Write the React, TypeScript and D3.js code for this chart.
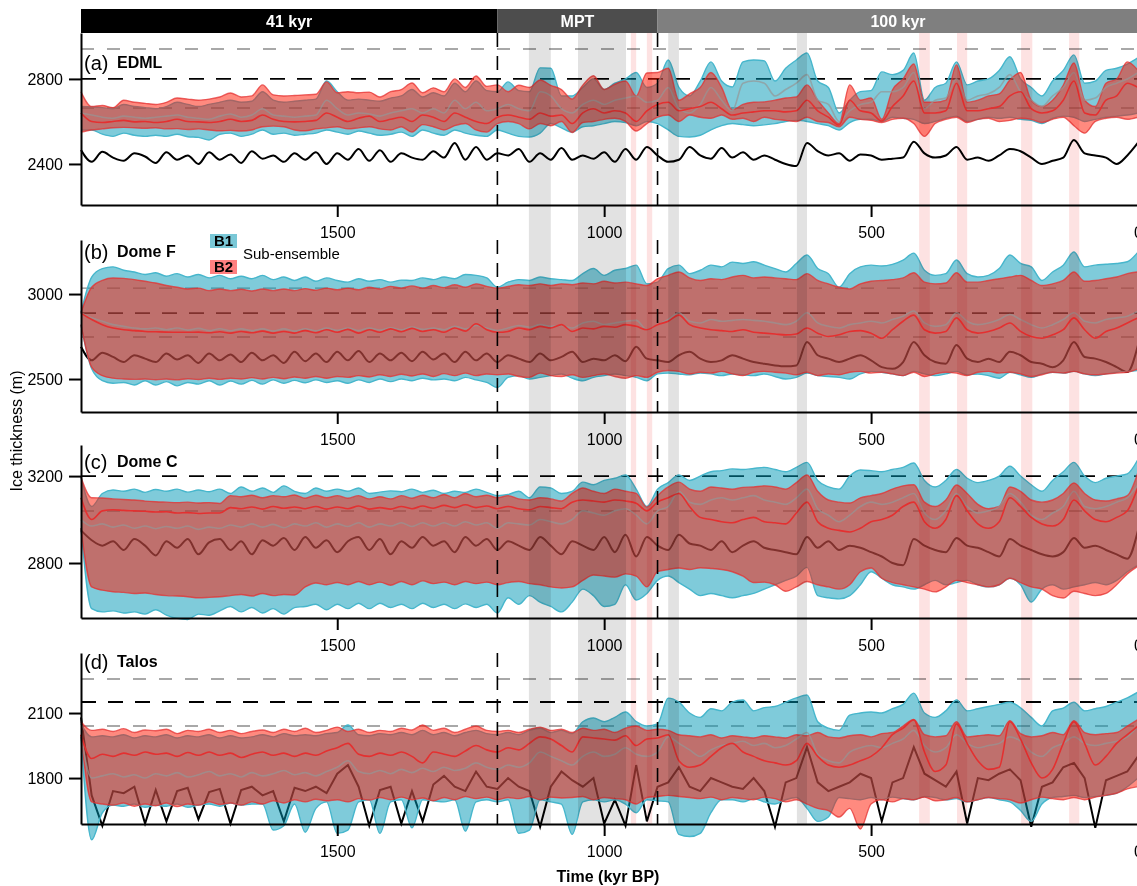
import React, { useRef, useEffect } from "react";
import * as d3 from "d3";

// time axis, kyr BP, every 20 kyr from 1980 to 0
const times = d3.range(1980, -1, -20);

// (a) EDML
const aBlack = [
  2466, 2410, 2457, 2430, 2415, 2450, 2435, 2405, 2455, 2420,
  2440, 2400, 2455, 2420, 2445, 2405, 2460, 2425, 2440, 2410,
  2450, 2420, 2455, 2400, 2450, 2420, 2470, 2415, 2465, 2410,
  2450, 2430, 2420, 2460, 2430, 2499, 2420, 2480, 2420, 2450,
  2440, 2470, 2410, 2450, 2420, 2475, 2420, 2440, 2425, 2455,
  2410, 2470, 2420, 2480, 2440, 2410, 2420, 2480, 2440, 2425,
  2475, 2430, 2455, 2420, 2440, 2420, 2400, 2390, 2499, 2460,
  2440, 2450, 2415, 2445, 2440, 2420, 2425, 2430, 2505, 2450,
  2430, 2440, 2480, 2420, 2430, 2415, 2440, 2470, 2460, 2430,
  2400, 2415, 2430, 2513, 2450, 2440, 2430, 2400, 2440, 2500,
];
const aB1Lo = [
  2560, 2560, 2540, 2530, 2545, 2535, 2530, 2535, 2530, 2540,
  2528, 2525, 2513, 2540, 2545, 2530, 2540, 2560, 2540, 2545,
  2535, 2540, 2545, 2560, 2550, 2540, 2555, 2545, 2535, 2540,
  2550, 2530, 2560, 2545, 2535, 2560, 2545, 2535, 2530, 2560,
  2545, 2530, 2527, 2545, 2590, 2570, 2550, 2575, 2580, 2590,
  2600, 2595, 2580, 2600, 2590, 2560, 2530, 2527, 2535, 2560,
  2580, 2590, 2585, 2580, 2584, 2590, 2600, 2605, 2600, 2590,
  2580, 2560, 2595, 2610, 2610, 2600, 2620, 2615, 2610, 2590,
  2600, 2615, 2625, 2600, 2610, 2620, 2615, 2620, 2610, 2605,
  2590, 2615, 2625, 2620, 2600, 2610, 2620, 2625, 2630, 2640,
];
const aB1Hi = [
  2670, 2668, 2665, 2660, 2680, 2670, 2665, 2660, 2670, 2690,
  2680, 2670, 2680, 2690, 2700, 2690, 2695, 2740, 2700, 2690,
  2695, 2700, 2705, 2790, 2740, 2700, 2705, 2700, 2695, 2710,
  2720, 2750, 2715, 2735, 2720, 2780, 2740, 2790, 2745, 2740,
  2786, 2745, 2740, 2852, 2850, 2720, 2720, 2760, 2800, 2750,
  2780, 2800, 2830, 2760, 2780, 2889, 2760, 2720, 2790, 2880,
  2790, 2762, 2880, 2889, 2885, 2790, 2850, 2889, 2922, 2790,
  2760, 2640, 2700, 2740, 2745, 2833, 2820, 2840, 2922, 2700,
  2760, 2780, 2880, 2772, 2790, 2800, 2840, 2904, 2800, 2760,
  2720, 2790, 2840, 2913, 2780, 2790, 2840, 2850, 2870, 2900,
];
const aB1Mid = [
  2640, 2630, 2620, 2615, 2625, 2620, 2615, 2620, 2625, 2630,
  2620, 2615, 2610, 2625, 2635, 2620, 2630, 2660, 2630, 2625,
  2620, 2625, 2630, 2700, 2660, 2630, 2640, 2635, 2625, 2640,
  2650, 2660, 2640, 2660, 2640, 2700, 2660, 2690, 2650, 2660,
  2680, 2660, 2650, 2740, 2720, 2660, 2640, 2680, 2700, 2680,
  2700, 2710, 2720, 2690, 2700, 2760, 2660, 2640, 2680, 2760,
  2700, 2650, 2780, 2790, 2780, 2720, 2750, 2780, 2820, 2700,
  2680, 2600, 2650, 2680, 2690, 2740, 2740, 2760, 2830, 2660,
  2700, 2710, 2800, 2700, 2720, 2730, 2760, 2820, 2740, 2700,
  2670, 2720, 2760, 2830, 2700, 2710, 2760, 2780, 2800, 2830,
];
const aB2Lo = [
  2550, 2560, 2565, 2570, 2572, 2570, 2568, 2570, 2565, 2566,
  2562, 2565, 2560, 2556, 2558, 2555, 2560, 2575, 2578, 2575,
  2560, 2556, 2565, 2570, 2575, 2565, 2570, 2575, 2565, 2560,
  2575, 2550, 2585, 2575, 2560, 2580, 2590, 2560, 2550, 2590,
  2600, 2590, 2565, 2590, 2580, 2600, 2548, 2595, 2600, 2610,
  2615, 2600, 2555, 2590, 2620, 2630, 2600, 2630, 2620, 2615,
  2630, 2610, 2615, 2600, 2620, 2610, 2605, 2600, 2620, 2600,
  2595, 2575, 2620, 2610, 2605, 2595, 2610, 2615, 2590, 2530,
  2590, 2610, 2620, 2595, 2610, 2615, 2600, 2605, 2615, 2610,
  2595, 2610, 2620, 2580, 2545, 2600, 2615, 2620, 2610, 2620,
];
const aB2Hi = [
  2740, 2670, 2675, 2665, 2700, 2690, 2685, 2680, 2690, 2710,
  2705, 2700, 2705, 2715, 2734, 2715, 2720, 2772, 2725, 2720,
  2722, 2725, 2728, 2786, 2735, 2740, 2735, 2738, 2715, 2740,
  2750, 2781, 2735, 2758, 2740, 2800, 2760, 2814, 2765, 2772,
  2740, 2770, 2760, 2795, 2770, 2750, 2705, 2770, 2815, 2750,
  2775, 2790, 2720, 2828, 2830, 2850, 2700, 2730, 2760, 2830,
  2760, 2654, 2680, 2690, 2692, 2700, 2710, 2715, 2772, 2700,
  2640, 2590, 2772, 2700, 2710, 2610, 2748, 2800, 2870, 2690,
  2690, 2700, 2866, 2690, 2700, 2720, 2730, 2795, 2830, 2700,
  2670, 2700, 2770, 2875, 2700, 2670, 2780, 2800, 2880, 2840,
];
const aB2Mid = [
  2640, 2600, 2595, 2600, 2605, 2598, 2600, 2595, 2600, 2610,
  2600, 2598, 2595, 2600, 2610, 2600, 2605, 2630, 2610, 2600,
  2598, 2600, 2605, 2640, 2620, 2600, 2615, 2625, 2600, 2610,
  2620, 2600, 2630, 2620, 2600, 2640, 2620, 2600, 2590, 2620,
  2630, 2620, 2610, 2640, 2625, 2630, 2590, 2640, 2660, 2640,
  2650, 2640, 2600, 2650, 2680, 2690, 2650, 2660, 2670, 2690,
  2660, 2630, 2640, 2645, 2650, 2650, 2645, 2650, 2700, 2650,
  2620, 2583, 2700, 2650, 2640, 2602, 2670, 2720, 2790, 2640,
  2640, 2650, 2780, 2650, 2650, 2660, 2670, 2720, 2740, 2660,
  2640, 2650, 2700, 2790, 2640, 2630, 2700, 2720, 2780, 2760,
];

// (b) Dome F
const bBlack = [
  2690, 2610, 2655, 2630, 2600, 2640, 2620, 2600, 2650, 2615,
  2640, 2595, 2650, 2610, 2645, 2600, 2655, 2610, 2640, 2595,
  2660, 2605, 2650, 2600, 2660, 2610, 2665, 2600, 2650, 2610,
  2655, 2605, 2660, 2615, 2650, 2600, 2660, 2610, 2650, 2600,
  2640, 2620, 2600, 2650, 2610, 2630, 2660, 2600, 2620, 2610,
  2640, 2605, 2690, 2620, 2610, 2600, 2640, 2660, 2620, 2600,
  2610, 2640, 2620, 2600, 2590, 2580, 2575, 2580, 2718, 2640,
  2620, 2600, 2620, 2640, 2610, 2570, 2560, 2600, 2718, 2640,
  2600, 2590, 2700, 2620, 2600, 2620, 2600, 2660, 2640, 2600,
  2590, 2570, 2610, 2718, 2630, 2620, 2600, 2570, 2541, 2700,
];
const bB1Lo = [
  2820, 2560, 2490, 2475, 2480, 2465, 2490, 2465, 2485, 2460,
  2480, 2470, 2490, 2465, 2488, 2470, 2492, 2470, 2495, 2475,
  2492, 2478, 2495, 2480, 2490, 2475, 2495, 2480, 2500, 2485,
  2500, 2490, 2505, 2495, 2500, 2490, 2510, 2495, 2480, 2450,
  2510, 2520, 2500, 2510, 2520, 2530, 2505, 2490, 2510, 2520,
  2530, 2520, 2510, 2490, 2530, 2535, 2530, 2525, 2535, 2530,
  2520, 2530, 2525, 2520, 2530, 2515, 2500, 2510, 2535, 2520,
  2515, 2510, 2500, 2530, 2545, 2540, 2530, 2520, 2545, 2530,
  2520, 2530, 2545, 2525, 2530, 2520, 2505, 2540, 2525, 2510,
  2530, 2540, 2535, 2545, 2530, 2520, 2530, 2540, 2545, 2550,
];
const bB1Hi = [
  2890, 3100, 3150, 3160, 3140, 3130, 3115, 3125, 3105, 3120,
  3100, 3115, 3095, 3110, 3090, 3105, 3090, 3110, 3085, 3100,
  3080, 3100, 3075, 3095, 3080, 3070, 3090, 3075, 3085, 3070,
  3082, 3080, 3095, 3085, 3100, 3090, 3115, 3110, 3095, 3040,
  3070, 3085, 3080, 3100, 3090, 3085, 3080, 3120, 3150, 3110,
  3140, 3150, 3170, 3060, 3070, 3150, 3170, 3120, 3140, 3170,
  3160, 3188, 3180, 3190, 3170, 3150, 3130, 3180, 3230, 3150,
  3120, 3040, 3120, 3160, 3170, 3165, 3175, 3200, 3241, 3140,
  3110, 3120, 3200, 3120, 3100, 3110, 3150, 3230, 3180, 3160,
  3080, 3130, 3170, 3247, 3160, 3170, 3175, 3180, 3190, 3247,
];
const bB1Mid = [
  2888, 2860, 2840, 2820, 2810, 2800, 2795, 2800, 2790, 2800,
  2788, 2798, 2785, 2796, 2784, 2795, 2785, 2795, 2783, 2795,
  2782, 2796, 2784, 2800, 2786, 2800, 2785, 2800, 2788, 2802,
  2790, 2806, 2792, 2800, 2790, 2810, 2795, 2815, 2800, 2785,
  2800, 2815, 2805, 2820, 2810, 2815, 2800, 2830, 2840, 2820,
  2830, 2840, 2845, 2790, 2820, 2850, 2890, 2840, 2830, 2850,
  2840, 2845, 2850, 2845, 2840, 2830, 2820, 2840, 2890, 2830,
  2810, 2800, 2820, 2830, 2840, 2830, 2850, 2870, 2900, 2830,
  2810, 2820, 2890, 2840, 2820, 2830, 2850, 2880, 2850, 2820,
  2800, 2820, 2850, 2890, 2840, 2830, 2850, 2860, 2870, 2900,
];
const bB2Lo = [
  2820, 2570, 2520, 2505, 2500, 2498, 2500, 2496, 2500, 2495,
  2502, 2497, 2505, 2498, 2505, 2500, 2508, 2500, 2510, 2502,
  2512, 2505, 2515, 2505, 2515, 2510, 2520, 2512, 2525, 2515,
  2528, 2518, 2530, 2515, 2532, 2520, 2535, 2520, 2530, 2525,
  2530, 2515, 2510, 2535, 2520, 2515, 2525, 2510, 2520, 2530,
  2515, 2505, 2520, 2510, 2540, 2550, 2545, 2530, 2540, 2535,
  2545, 2530, 2520, 2540, 2545, 2540, 2535, 2525, 2540, 2520,
  2530, 2525, 2540, 2545, 2535, 2540, 2530, 2520, 2540, 2515,
  2530, 2540, 2535, 2520, 2540, 2545, 2535, 2540, 2530, 2515,
  2525, 2540, 2535, 2545, 2530, 2525, 2530, 2535, 2540, 2560,
];
const bB2Hi = [
  2890, 3040, 3080, 3094, 3092, 3085, 3075, 3065, 3050, 3040,
  3030, 3035, 3020, 3030, 3020, 3028, 3018, 3030, 3020, 3030,
  3020, 3032, 3022, 3035, 3025, 3035, 3025, 3040, 3030, 3045,
  3035, 3048, 3035, 3050, 3038, 3055, 3040, 3060, 3045, 3035,
  3045, 3055, 3050, 3060, 3050, 3060, 3055, 3065, 3060, 3075,
  3065, 3070, 3060, 3050, 3090, 3110, 3130, 3095, 3080, 3090,
  3085, 3100, 3110, 3095, 3100, 3095, 3090, 3085, 3120, 3080,
  3060, 3040, 3030, 3060, 3075, 3080, 3085, 3095, 3125, 3070,
  3060, 3065, 3125, 3070, 3070, 3080, 3090, 3100, 3110, 3080,
  3050, 3060, 3080, 3130, 3075, 3080, 3090, 3100, 3120, 3130,
];
const bB2Mid = [
  2888, 2850, 2820, 2800, 2790, 2785, 2780, 2778, 2776, 2775,
  2775, 2776, 2772, 2778, 2770, 2780, 2772, 2782, 2770, 2780,
  2770, 2785, 2772, 2790, 2775, 2792, 2770, 2790, 2775, 2795,
  2778, 2798, 2780, 2790, 2775, 2800, 2782, 2825, 2790, 2775,
  2780, 2800, 2790, 2810, 2800, 2820, 2780, 2800, 2795, 2810,
  2805, 2820, 2810, 2790, 2820, 2840, 2876, 2820, 2800, 2790,
  2785, 2780, 2790, 2775, 2770, 2765, 2760, 2765, 2800, 2770,
  2750, 2760, 2780, 2785, 2770, 2740, 2790, 2840, 2876, 2790,
  2770, 2780, 2860, 2790, 2770, 2780, 2800, 2830, 2780, 2750,
  2740, 2760, 2790, 2860, 2790, 2740, 2780, 2800, 2830, 2860,
];

// (c) Dome C
const cBlack = [
  2950, 2905, 2880, 2900, 2860, 2910, 2880, 2835, 2900, 2870,
  2910, 2840, 2895, 2910, 2860, 2900, 2840, 2905, 2880, 2915,
  2860, 2920, 2870, 2905, 2850, 2900, 2920, 2860, 2910, 2840,
  2900, 2870, 2920, 2880, 2900, 2850, 2920, 2880, 2910, 2860,
  2900, 2880, 2860, 2920, 2880, 2840, 2900, 2880, 2860, 2920,
  2850, 2930, 2830, 2920, 2880, 2860, 2930, 2890, 2880, 2860,
  2900, 2850, 2880, 2900, 2870, 2860, 2850, 2840, 2920, 2870,
  2900, 2860, 2880, 2870, 2850, 2830, 2800, 2790, 2910, 2880,
  2860, 2850, 2915, 2880, 2870, 2850, 2830, 2910, 2880, 2860,
  2840, 2830, 2850, 2915, 2870, 2880, 2860, 2840, 2820, 2950,
];
const cB1Lo = [
  2960, 2590, 2575, 2580, 2570, 2575, 2565, 2585, 2560, 2545,
  2540, 2565, 2560, 2580, 2600, 2575, 2595, 2570, 2590, 2565,
  2595, 2600, 2610, 2585, 2610, 2590, 2615, 2590, 2615, 2595,
  2610, 2590, 2615, 2595, 2610, 2590, 2612, 2595, 2610, 2570,
  2640, 2610, 2650, 2620, 2600, 2575, 2620, 2680, 2650, 2600,
  2610, 2700, 2630, 2660, 2720, 2740, 2710, 2680, 2650, 2660,
  2650, 2640, 2650, 2660, 2680, 2700, 2720, 2740, 2780, 2650,
  2640, 2635, 2650, 2700, 2760, 2730, 2700, 2690, 2680, 2700,
  2720, 2700, 2710, 2720, 2700, 2690, 2700, 2730, 2700, 2620,
  2680, 2700, 2680, 2690, 2700, 2710, 2700, 2720, 2760, 2790,
];
const cB1Hi = [
  3195, 3060, 3120, 3136, 3130, 3140, 3125, 3138, 3130, 3140,
  3126, 3136, 3128, 3140, 3120, 3150, 3130, 3145, 3125, 3155,
  3130, 3120, 3145, 3130, 3140, 3130, 3145, 3120, 3126, 3132,
  3128, 3140, 3125, 3135, 3120, 3130, 3125, 3140, 3125, 3110,
  3115, 3130, 3100, 3150, 3145, 3120, 3130, 3172, 3160, 3180,
  3190, 3205, 3140, 3060, 3140, 3170, 3205, 3180, 3200, 3220,
  3225, 3233, 3230, 3235, 3240, 3230, 3220, 3240, 3263, 3180,
  3150, 3140, 3200, 3228, 3225, 3220, 3230, 3240, 3260, 3180,
  3150, 3180, 3230, 3190, 3170, 3180, 3200, 3245, 3200, 3160,
  3130, 3180, 3220, 3263, 3200, 3170, 3190, 3200, 3210, 3277,
];
const cB1Mid = [
  3000, 2970, 2980, 2965, 2975, 2960, 2970, 2958, 2968, 2960,
  2970, 2955, 2965, 2960, 2975, 2965, 2980, 2965, 2978, 2962,
  2980, 2970, 2985, 2965, 2980, 2968, 2985, 2965, 2980, 2970,
  2985, 2968, 2985, 2970, 2985, 2970, 2990, 2975, 2985, 2960,
  2985, 2980, 2975, 3000, 2990, 2980, 3000, 3040, 3030, 3020,
  3040, 3050, 3020, 2980, 3040, 3060, 3130, 3080, 3070, 3090,
  3100, 3090, 3100, 3110, 3090, 3080, 3070, 3100, 3140, 3050,
  3020, 2990, 3020, 3060, 3080, 3070, 3080, 3100, 3120, 3030,
  3000, 3040, 3120, 3060, 3030, 3040, 3060, 3120, 3080, 3020,
  3000, 3030, 3060, 3130, 3060, 3050, 3060, 3080, 3100, 3160,
];
const cB2Lo = [
  2960, 2690, 2675, 2668, 2665, 2660, 2662, 2655, 2650, 2648,
  2645, 2640, 2642, 2645, 2650, 2655, 2648, 2660, 2650, 2655,
  2653, 2690, 2708, 2700, 2710, 2700, 2715, 2700, 2712, 2698,
  2715, 2700, 2718, 2705, 2712, 2700, 2715, 2705, 2712, 2700,
  2710, 2715, 2705, 2700, 2690, 2685, 2690, 2720, 2745, 2740,
  2735, 2750, 2740, 2690, 2760, 2770, 2777, 2770, 2778, 2775,
  2770, 2760, 2740, 2710, 2712, 2700, 2670, 2690, 2715, 2700,
  2690, 2680, 2700, 2760, 2777, 2730, 2710, 2700, 2690, 2680,
  2667, 2690, 2720, 2710, 2700, 2690, 2700, 2730, 2710, 2690,
  2680, 2650, 2639, 2670, 2660, 2650, 2660, 2700, 2750, 2785,
];
const cB2Hi = [
  3195, 3100, 3099, 3095, 3092, 3090, 3085, 3082, 3080, 3078,
  3080, 3076, 3078, 3074, 3110, 3105, 3112, 3100, 3110, 3105,
  3113, 3098, 3112, 3100, 3110, 3098, 3110, 3095, 3105, 3095,
  3110, 3098, 3112, 3100, 3115, 3100, 3120, 3105, 3112, 3100,
  3110, 3095, 3090, 3100, 3095, 3085, 3120, 3145, 3130, 3120,
  3140, 3130, 3120, 3057, 3110, 3150, 3172, 3140, 3130, 3150,
  3145, 3140, 3148, 3150, 3155, 3150, 3140, 3170, 3205, 3130,
  3090, 3080, 3076, 3100, 3110, 3120, 3140, 3155, 3160, 3080,
  3060, 3090, 3159, 3120, 3070, 3050, 3060, 3150, 3130, 3090,
  3080, 3090, 3120, 3168, 3120, 3090, 3085, 3095, 3110, 3218,
];
const cB2Mid = [
  3100, 3000, 3040, 3045, 3042, 3040, 3038, 3035, 3036, 3030,
  3032, 3028, 3030, 3030, 3055, 3050, 3058, 3048, 3060, 3052,
  3058, 3050, 3060, 3048, 3058, 3050, 3062, 3048, 3055, 3048,
  3060, 3050, 3062, 3052, 3065, 3055, 3068, 3055, 3062, 3050,
  3060, 3050, 3045, 3060, 3055, 3050, 3080, 3090, 3085, 3080,
  3090, 3085, 3075, 3040, 3080, 3100, 3120, 3060, 3010, 3000,
  2990, 2985, 3000, 3010, 2990, 2985, 2980, 3030, 3080, 2990,
  2960, 2950, 2943, 2960, 2990, 3000, 3020, 3060, 3080, 2990,
  2960, 3000, 3110, 3040, 2980, 2960, 2990, 3100, 3060, 3010,
  2980, 2970, 3000, 3090, 3040, 3000, 2990, 3010, 3040, 3150,
];

// (d) Talos
const dBlack = [
  2080, 1720, 1580, 1740, 1730, 1760, 1590, 1745, 1600, 1740,
  1755, 1610, 1735, 1750, 1590, 1745, 1760, 1720, 1740, 1600,
  1755, 1740, 1760, 1730, 1820, 1860, 1760, 1580, 1745, 1760,
  1590, 1740, 1600, 1770, 1810, 1760, 1740, 1830, 1760, 1750,
  1800, 1760, 1740, 1575, 1760, 1830, 1790, 1760, 1800, 1590,
  1700, 1580, 1860, 1600, 1760, 1780, 1850, 1760, 1740, 1800,
  1780, 1760, 1750, 1800, 1740, 1575, 1780, 1800, 1943, 1780,
  1740, 1760, 1780, 1820, 1800, 1600, 1780, 1800, 1943, 1820,
  1790, 1760, 1830, 1590, 1800, 1790, 1820, 1840, 1790, 1575,
  1760, 1780, 1850, 1870, 1800, 1570, 1790, 1810, 1830, 1900,
];
const dB1Lo = [
  1990, 1515, 1640, 1675, 1670, 1680, 1665, 1675, 1670, 1680,
  1665, 1675, 1680, 1670, 1685, 1675, 1680, 1680, 1560, 1580,
  1680, 1550, 1660, 1690, 1545, 1560, 1690, 1700, 1545, 1690,
  1700, 1570, 1700, 1695, 1690, 1700, 1555, 1690, 1700, 1690,
  1700, 1545, 1560, 1700, 1690, 1680, 1540, 1690, 1700, 1690,
  1700, 1680, 1640, 1700, 1695, 1690, 1540, 1530, 1545, 1640,
  1700, 1700, 1690, 1705, 1690, 1680, 1700, 1710, 1660, 1600,
  1620, 1710, 1705, 1700, 1710, 1700, 1712, 1705, 1700, 1715,
  1710, 1700, 1705, 1690, 1700, 1710, 1700, 1690, 1650, 1600,
  1680, 1710, 1715, 1720, 1710, 1715, 1720, 1730, 1760, 1800,
];
const dB1Hi = [
  2050, 1990, 1995, 1990, 2000, 1985, 1995, 1990, 2000, 1985,
  1995, 1990, 2000, 1985, 1995, 1985, 1990, 2000, 1990, 2005,
  1995, 2000, 1995, 2005, 2010, 2045, 2000, 1995, 2005, 2000,
  2010, 2000, 2020, 2000, 2010, 1995, 2010, 2020, 2005, 2000,
  2010, 2000, 2020, 2030, 2010, 2020, 2005, 2060, 2077, 2060,
  2080, 2105, 2060, 2040, 2050, 2169, 2150, 2100, 2080, 2120,
  2110, 2150, 2160, 2110, 2125, 2130, 2150, 2170, 2183, 2060,
  2030, 2020, 2090, 2100, 2105, 2100, 2120, 2140, 2192, 2100,
  2080, 2110, 2160, 2110, 2120, 2130, 2140, 2150, 2124, 2080,
  2040, 2110, 2123, 2150, 2110, 2120, 2130, 2150, 2170, 2197,
];
const dB1Mid = [
  1990, 1800, 1810, 1820, 1805, 1815, 1800, 1820, 1810, 1825,
  1805, 1815, 1830, 1810, 1820, 1805, 1825, 1810, 1820, 1835,
  1815, 1825, 1810, 1830, 1850, 1880, 1830, 1820, 1835, 1820,
  1840, 1825, 1845, 1830, 1850, 1835, 1845, 1870, 1850, 1840,
  1860, 1850, 1870, 1920, 1900, 1880, 1860, 1900, 1920, 1900,
  1910, 1940, 1910, 1900, 1920, 1990, 1960, 1930, 1900, 1930,
  1950, 1960, 1970, 1950, 1960, 1940, 1950, 1980, 2010, 1910,
  1880, 1870, 1920, 1940, 1950, 1940, 1960, 1980, 2020, 1950,
  1920, 1940, 2000, 1960, 1940, 1950, 1960, 1990, 1970, 1920,
  1900, 1940, 1960, 1990, 1960, 1950, 1960, 1970, 1990, 2040,
];
const dB2Lo = [
  2000, 1690, 1680, 1675, 1685, 1670, 1680, 1672, 1685, 1668,
  1680, 1675, 1690, 1678, 1685, 1675, 1690, 1680, 1695, 1685,
  1700, 1690, 1702, 1695, 1700, 1690, 1705, 1698, 1710, 1700,
  1712, 1700, 1708, 1695, 1710, 1700, 1715, 1705, 1712, 1700,
  1710, 1705, 1715, 1700, 1712, 1708, 1710, 1715, 1700, 1710,
  1705, 1700, 1680, 1710, 1715, 1720, 1715, 1710, 1705, 1712,
  1700, 1710, 1705, 1700, 1712, 1705, 1690, 1700, 1680, 1660,
  1650, 1620, 1660, 1565, 1680, 1700, 1690, 1705, 1700, 1712,
  1695, 1700, 1710, 1690, 1700, 1710, 1705, 1700, 1685, 1700,
  1712, 1705, 1700, 1710, 1700, 1712, 1720, 1730, 1750, 1760,
];
const dB2Hi = [
  2060, 2020, 2025, 2015, 2028, 2010, 2022, 2018, 2025, 2005,
  2020, 2015, 2025, 2010, 2020, 2005, 2015, 2022, 2010, 2025,
  2015, 2030, 2010, 2020, 2035, 2015, 2025, 2010, 2020, 2015,
  2030, 2022, 2045, 2020, 2030, 2010, 2025, 2040, 2020, 2015,
  2020, 2010, 2025, 2035, 2020, 2025, 2010, 2030, 2020, 2025,
  2010, 2030, 2040, 2020, 2025, 2020, 2000, 1995, 1990, 2000,
  1985, 1995, 1990, 1985, 1995, 1990, 1985, 2000, 1995, 2010,
  1990, 1985, 1995, 2000, 1990, 2005, 2010, 2040, 2070, 2000,
  1990, 1995, 2060, 1990, 1995, 2000, 1995, 2065, 2005, 1990,
  1995, 2010, 2000, 2065, 2010, 2000, 2005, 2010, 2040, 2070,
];
const dB2Mid = [
  2000, 1890, 1910, 1900, 1915, 1905, 1920, 1910, 1915, 1900,
  1918, 1905, 1920, 1905, 1915, 1895, 1910, 1920, 1905, 1915,
  1900, 1915, 1905, 1925, 1940, 1960, 1910, 1900, 1915, 1905,
  1920, 1900, 1870, 1920, 1910, 1900, 1925, 1950, 1930, 1920,
  1940, 1930, 1960, 1990, 1980, 1950, 1920, 1990, 1985, 1980,
  1975, 1995, 1950, 1980, 1985, 2000, 1880, 1850, 1860, 1900,
  1940, 1960, 1920, 1900, 1880, 1870, 1860, 1880, 1960, 1900,
  1860, 1850, 1860, 1880, 1900, 1940, 2000, 2030, 2068, 1920,
  1830, 1860, 2050, 1960, 1880, 1840, 1850, 2060, 1980, 1870,
  1800, 1840, 1960, 2060, 1960, 1860, 1900, 1960, 2000, 2040,
];

// climate regimes along the top
const regimeNames = ["41 kyr", "MPT", "100 kyr"];
const regimeStart = [1980, 1200, 900];
const regimeEnd = [1200, 900, 0];
const regimeColors = ["#000000", "#4d4d4d", "#7f7f7f"];

// shaded intervals (kyr BP)
const greyBands = [[1141, 1100], [1049, 959], [880, 860], [639, 620]];
const pinkBands = [[950, 940], [920, 910], [410, 390], [339, 320], [219, 198], [129, 110]];

const xTicks = [1500, 1000, 500, 0];
const transitions = [1200, 900];

const BLUE = "rgb(0,152,182)";
const BLUE_EDGE = "rgb(70,182,204)";
const RED = "rgb(255,22,0)";
const RED_EDGE = "rgb(228,48,48)";
const FONT = "'Liberation Sans', Arial, sans-serif";

const panels = [
  { tag: "(a)", name: "EDML", top: 33, bottom: 205, domain: [2207, 3016], yTicks: [2400, 2800], labelY: 70,
    greyRef: [2941, 2663], blackRef: [2800], spiky: false,
    black: aBlack, b1lo: aB1Lo, b1hi: aB1Hi, b1mid: aB1Mid, b2lo: aB2Lo, b2hi: aB2Hi, b2mid: aB2Mid },
  { tag: "(b)", name: "Dome F", top: 240, bottom: 412, domain: [2306, 3318], yTicks: [2500, 3000], labelY: 259,
    greyRef: [3035, 2747], blackRef: [2888], spiky: false,
    black: bBlack, b1lo: bB1Lo, b1hi: bB1Hi, b1mid: bB1Mid, b2lo: bB2Lo, b2hi: bB2Hi, b2mid: bB2Mid },
  { tag: "(c)", name: "Dome C", top: 445, bottom: 618, domain: [2547, 3343], yTicks: [2800, 3200], labelY: 469,
    greyRef: [3039], blackRef: [3200], spiky: false,
    black: cBlack, b1lo: cB1Lo, b1hi: cB1Hi, b1mid: cB1Mid, b2lo: cB2Lo, b2hi: cB2Hi, b2mid: cB2Mid },
  { tag: "(d)", name: "Talos", top: 653, bottom: 824, domain: [1588, 2377], yTicks: [1800, 2100], labelY: 669,
    greyRef: [2257, 2040], blackRef: [2151], spiky: true,
    black: dBlack, b1lo: dB1Lo, b1hi: dB1Hi, b1mid: dB1Mid, b2lo: dB2Lo, b2hi: dB2Hi, b2mid: dB2Mid },
];

const IceChart = () => {
  const svgRef = useRef<SVGSVGElement>(null);

  useEffect(() => {
    const svg = d3.select(svgRef.current);
    svg.selectAll("*").remove();

    const x = d3.scaleLinear().domain([1980, 0]).range([81, 1138]);
    const left = x(1980);
    const right = x(0);

    const dataLayer = svg.append("g");
    const bandLayer = svg.append("g");
    const axisLayer = svg.append("g");

    panels.forEach((p) => {
      const y = d3.scaleLinear().domain(p.domain).range([p.bottom, p.top]);
      const g = dataLayer.append("g");

      const smooth = d3
        .line<number>()
        .x((_, i) => x(times[i]))
        .y((d) => y(d))
        .curve(d3.curveMonotoneX);
      const straight = d3
        .line<number>()
        .x((_, i) => x(times[i]))
        .y((d) => y(d));
      const area = (lo: number[], hi: number[]) =>
        d3
          .area<number>()
          .x((_, i) => x(times[i]))
          .y0((_, i) => y(lo[i]))
          .y1((_, i) => y(hi[i]))
          .curve(d3.curveMonotoneX)(lo);

      p.greyRef.forEach((v) => {
        g.append("line")
          .attr("x1", left).attr("x2", right)
          .attr("y1", y(v)).attr("y2", y(v))
          .attr("stroke", "#8c8c8c")
          .attr("stroke-width", 1.4)
          .attr("stroke-dasharray", "13,13");
      });
      p.blackRef.forEach((v) => {
        g.append("line")
          .attr("x1", left).attr("x2", right)
          .attr("y1", y(v)).attr("y2", y(v))
          .attr("stroke", "#000")
          .attr("stroke-width", 1.8)
          .attr("stroke-dasharray", "15,12");
      });

      g.append("path")
        .attr("d", (p.spiky ? straight : smooth)(p.black))
        .attr("fill", "none")
        .attr("stroke", "#000")
        .attr("stroke-width", 2);

      // B1 sub-ensemble
      g.append("path").attr("d", area(p.b1lo, p.b1hi)).attr("fill", BLUE).attr("fill-opacity", 0.5);
      [p.b1lo, p.b1hi].forEach((s) => {
        g.append("path")
          .attr("d", smooth(s))
          .attr("fill", "none")
          .attr("stroke", BLUE_EDGE)
          .attr("stroke-width", 1.4);
      });

      // B2 sub-ensemble
      g.append("path").attr("d", area(p.b2lo, p.b2hi)).attr("fill", RED).attr("fill-opacity", 0.5);
      [p.b2lo, p.b2hi].forEach((s) => {
        g.append("path")
          .attr("d", smooth(s))
          .attr("fill", "none")
          .attr("stroke", RED_EDGE)
          .attr("stroke-opacity", 0.75)
          .attr("stroke-width", 1.4);
      });

      g.append("path")
        .attr("d", smooth(p.b1mid))
        .attr("fill", "none")
        .attr("stroke", "rgb(150,150,150)")
        .attr("stroke-opacity", 0.7)
        .attr("stroke-width", 1.6);
      g.append("path")
        .attr("d", smooth(p.b2mid))
        .attr("fill", "none")
        .attr("stroke", RED_EDGE)
        .attr("stroke-width", 1.6);

      // regime boundaries
      transitions.forEach((t) => {
        axisLayer.append("line")
          .attr("x1", x(t)).attr("x2", x(t))
          .attr("y1", p.top).attr("y2", p.bottom)
          .attr("stroke", "#000")
          .attr("stroke-width", 1.6)
          .attr("stroke-dasharray", "14,9");
      });

      const yAxis = axisLayer
        .append("g")
        .attr("transform", `translate(${left},0)`)
        .call(d3.axisLeft(y).tickValues(p.yTicks).tickSize(12).tickPadding(6).tickSizeOuter(0).tickFormat(d3.format("d")));
      const xAxis = axisLayer
        .append("g")
        .attr("transform", `translate(0,${p.bottom})`)
        .call(d3.axisBottom(x).tickValues(xTicks).tickSize(12).tickPadding(10).tickSizeOuter(0).tickFormat(d3.format("d")));
      [yAxis, xAxis].forEach((ax) => {
        ax.attr("font-size", 16).attr("font-family", FONT);
        ax.selectAll("path, line").attr("stroke", "#000").attr("stroke-width", 2);
        ax.selectAll("text").attr("fill", "#000");
      });

      axisLayer.append("text")
        .attr("x", 84).attr("y", p.labelY)
        .attr("font-size", 20).attr("font-family", FONT)
        .text(p.tag);
      axisLayer.append("text")
        .attr("x", 117).attr("y", p.labelY - 2)
        .attr("font-size", 16).attr("font-weight", "bold").attr("font-family", FONT)
        .text(p.name);
    });

    // shaded intervals across all panels
    const bandTop = panels[0].top;
    const bandBottom = panels[panels.length - 1].bottom;
    greyBands.forEach(([a, b]) => {
      bandLayer.append("rect")
        .attr("x", x(a)).attr("width", x(b) - x(a))
        .attr("y", bandTop).attr("height", bandBottom - bandTop)
        .attr("fill", "#e2e2e2")
        .style("mix-blend-mode", "multiply");
    });
    pinkBands.forEach(([a, b]) => {
      bandLayer.append("rect")
        .attr("x", x(a)).attr("width", x(b) - x(a))
        .attr("y", bandTop).attr("height", bandBottom - bandTop)
        .attr("fill", "#fde2e2")
        .style("mix-blend-mode", "multiply");
    });

    // regime bar
    regimeNames.forEach((name, i) => {
      const x0 = x(regimeStart[i]);
      const x1 = x(regimeEnd[i]);
      axisLayer.append("rect")
        .attr("x", x0).attr("y", 9)
        .attr("width", x1 - x0).attr("height", 24)
        .attr("fill", regimeColors[i]);
      axisLayer.append("text")
        .attr("x", i === 2 ? 898 : (x0 + x1) / 2).attr("y", 21)
        .attr("dy", "0.35em")
        .attr("text-anchor", "middle")
        .attr("fill", "#fff")
        .attr("font-size", 16).attr("font-weight", "bold").attr("font-family", FONT)
        .text(name);
    });

    // legend
    const legend = axisLayer.append("g").attr("font-family", FONT);
    [["B1", "rgb(122,200,215)", 234], ["B2", "rgb(255,128,128)", 260]].forEach(([lab, col, yy]) => {
      legend.append("rect")
        .attr("x", 210).attr("y", yy as number)
        .attr("width", 27).attr("height", 14)
        .attr("fill", col as string);
      legend.append("text")
        .attr("x", 223.5).attr("y", (yy as number) + 7)
        .attr("dy", "0.36em")
        .attr("text-anchor", "middle")
        .attr("font-size", 15).attr("font-weight", "bold")
        .text(lab as string);
    });
    legend.append("text")
      .attr("x", 243).attr("y", 259)
      .attr("font-size", 15)
      .text("Sub-ensemble");

    // axis titles
    axisLayer.append("text")
      .attr("transform", "translate(22,431) rotate(-90)")
      .attr("text-anchor", "middle")
      .attr("font-size", 16).attr("font-family", FONT)
      .text("Ice thickness (m)");
    axisLayer.append("text")
      .attr("x", 608).attr("y", 882)
      .attr("text-anchor", "middle")
      .attr("font-size", 16).attr("font-weight", "bold").attr("font-family", FONT)
      .text("Time (kyr BP)");
  }, []);

  return (
    <svg
      ref={svgRef}
      width={1137}
      height={886}
      style={{ position: "absolute", left: 0, top: 0, background: "#fff" }}
    />
  );
};

export default function App() {
  return <IceChart />;
}
